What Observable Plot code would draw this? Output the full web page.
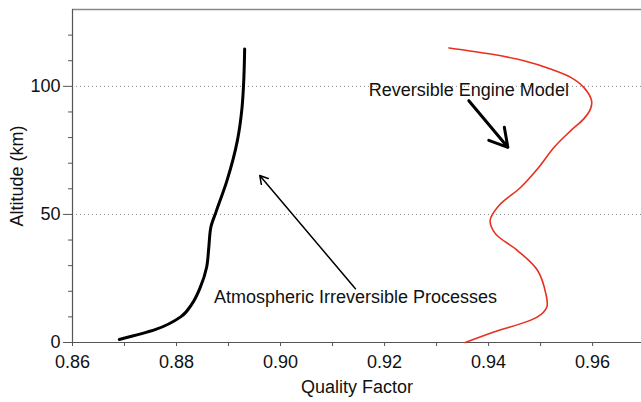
<!DOCTYPE html>
<html><head><meta charset="utf-8">
<script src="https://cdn.jsdelivr.net/npm/d3@7"></script>
<script src="https://cdn.jsdelivr.net/npm/@observablehq/plot@0.6"></script>
<style>body{margin:0;background:#fff}</style>
</head><body><div id="chart"></div>
<script>
// Atmospheric irreversible processes (black)
const blackAlt = [1.2, 5.1, 10, 15.2, 21.7, 29.5, 37, 45, 51, 63.2, 78.8, 91.8, 101, 114.6];
const blackQ   = [0.869, 0.876, 0.8808, 0.883, 0.8846, 0.8858, 0.8862, 0.8866, 0.8876, 0.8897, 0.8917, 0.8926, 0.8929, 0.8931];
// Reversible engine model (red)
const redAlt = [115, 112.6, 110, 106.8, 103.5, 99.6, 94.4, 91.2, 87.3, 82.7, 76.2, 68, 60.6, 53.5, 47.7, 42.5, 36, 28.2, 19.1, 13.9, 10, 4.1, 0];
const redQ   = [0.9324, 0.9404, 0.9468, 0.9519, 0.9558, 0.9583, 0.9598, 0.9596, 0.9583, 0.9558, 0.9526, 0.9495, 0.9462, 0.942, 0.9403, 0.9413, 0.9455, 0.9494, 0.951, 0.9512, 0.9494, 0.941, 0.9355];

const xTicks = [0.86, 0.88, 0.90, 0.92, 0.94, 0.96];
const xMinor = [0.87, 0.89, 0.91, 0.93, 0.95];
const yTicks = [0, 50, 100];
const yMinor = [10, 20, 30, 40, 60, 70, 80, 90, 110, 120];
const gridLines = [50, 100];

const labels = [
  {text: "Reversible Engine Model", q: 0.9362, alt: 98.3},
  {text: "Atmospheric Irreversible Processes", q: 0.9144, alt: 17.7}
];
const thickArrow = [{q1: 0.9362, a1: 94.4, q2: 0.9437, a2: 76.2}];
const thinArrow = [{q1: 0.9144, a1: 21, q2: 0.896, a2: 65.2}];

const black = blackAlt.map((a, i) => ({alt: a, q: blackQ[i]}));
const red = redAlt.map((a, i) => ({alt: a, q: redQ[i]}));

const axisColor = "#555";
const chart = Plot.plot({
  width: 641, height: 402,
  marginLeft: 72, marginRight: 0, marginTop: 9, marginBottom: 60,
  style: {fontFamily: "'Liberation Sans', Arial, sans-serif", fontSize: "18px", color: "#111", background: "#fff"},
  x: {domain: [0.86, 0.9694]},
  y: {domain: [0, 130]},
  marks: [
    Plot.ruleY(gridLines, {stroke: "#888", strokeDasharray: "1,3", strokeWidth: 1}),
    Plot.ruleY([130], {stroke: "#888", strokeWidth: 1.5}),
    Plot.axisX(xTicks, {tickSize: 4, tickPadding: 9, fontSize: 18, tickFormat: d3.format(".2f"), stroke: axisColor,
      label: "Quality Factor", labelAnchor: "center", labelOffset: 50, labelArrow: "none"}),
    Plot.axisX(xMinor, {tickSize: 4, tickFormat: () => "", stroke: axisColor, label: null}),
    Plot.axisY(yTicks, {tickSize: 9, tickPadding: 3, fontSize: 18, stroke: axisColor,
      label: "Altitude (km)", labelAnchor: "center", labelOffset: 62, labelArrow: "none"}),
    Plot.axisY(yMinor, {tickSize: 4, tickFormat: () => "", stroke: axisColor, label: null}),
    Plot.ruleX([0.86], {stroke: axisColor, strokeWidth: 1.2}),
    Plot.ruleY([0], {stroke: axisColor, strokeWidth: 1.2}),
    Plot.line(black, {x: "q", y: "alt", stroke: "#000", strokeWidth: 3, curve: "monotone-y"}),
    Plot.line(red, {x: "q", y: "alt", stroke: "#e8301f", strokeWidth: 1.6, curve: "catmull-rom"}),
    Plot.arrow(thickArrow, {x1: "q1", y1: "a1", x2: "q2", y2: "a2", stroke: "#000", strokeWidth: 3, headLength: 11}),
    Plot.arrow(thinArrow, {x1: "q1", y1: "a1", x2: "q2", y2: "a2", stroke: "#000", strokeWidth: 1.5, headLength: 9}),
    Plot.text(labels, {x: "q", y: "alt", text: "text", fontSize: 18, fill: "#111"})
  ]
});
document.getElementById("chart").append(chart);
</script>
</body></html>
